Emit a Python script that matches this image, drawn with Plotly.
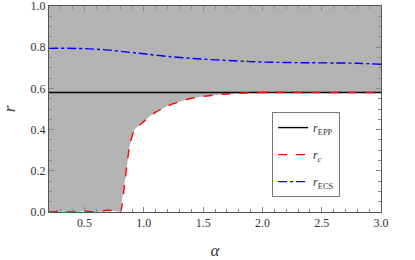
import plotly.graph_objects as go

alpha_c = [0.2, 0.25, 0.3, 0.35, 0.4, 0.45, 0.5, 0.55, 0.6, 0.65, 0.7, 0.75, 0.8,
           0.84, 0.88, 0.92, 0.97, 1.0, 1.05, 1.1, 1.2, 1.3, 1.4, 1.5, 1.6, 1.7,
           1.8, 1.9, 2.0, 2.2, 2.5, 2.8, 3.0]
r_c = [0.0, 0.002, 0.004, 0.0, 0.0, 0.0, 0.005, 0.002, 0.0, 0.004, 0.01, 0.005, 0.0,
       0.15, 0.32, 0.40, 0.425, 0.44, 0.465, 0.485, 0.515, 0.535, 0.552, 0.561, 0.568, 0.573,
       0.576, 0.579, 0.58, 0.58, 0.58, 0.58, 0.58]

alpha_ecs = [0.2, 0.5, 0.7, 0.9, 1.0, 1.2, 1.5, 1.8, 2.0, 2.3, 2.5, 2.8, 3.0]
r_ecs = [0.795, 0.793, 0.786, 0.774, 0.768, 0.755, 0.742, 0.733, 0.728, 0.725, 0.724, 0.722, 0.717]

alpha_epp = [0.2, 3.0]
r_epp = [0.58, 0.58]

SERIF = "Liberation Serif, serif"

fig = go.Figure()
# shaded region: from r_c up to 1
fig.add_trace(go.Scatter(x=alpha_c, y=[1.0] * len(alpha_c), mode="lines",
                         line=dict(width=0), showlegend=False, hoverinfo="skip"))
fig.add_trace(go.Scatter(x=alpha_c, y=r_c, mode="lines", line=dict(width=0),
                         fill="tonexty", fillcolor="#b3b3b3", showlegend=False, hoverinfo="skip"))

fig.add_trace(go.Scatter(x=alpha_epp, y=r_epp, mode="lines", name="<i>r</i><sub>EPP</sub>",
                         line=dict(color="black", width=1.4), legendgroup="a"))
fig.add_trace(go.Scatter(x=alpha_c, y=r_c, mode="lines", name="<i>r</i><sub><i>c</i></sub>",
                         line=dict(color="red", width=1.4, dash="dash", shape="spline", smoothing=0.6),
                         legendgroup="b"))
fig.add_trace(go.Scatter(x=alpha_ecs, y=r_ecs, mode="lines", name="<i>r</i><sub>ECS</sub>",
                         line=dict(color="blue", width=1.4, dash="dashdot", shape="spline"),
                         legendgroup="c"))

axis_common = dict(showline=True, linecolor="#555", linewidth=1, mirror="ticks",
                   ticks="inside", ticklen=5, tickcolor="#888", showgrid=False, zeroline=False,
                   ticklabeloverflow="allow", automargin=False,
                   tickfont=dict(family=SERIF, size=12, color="#333"))

fig.update_xaxes(range=[0.2, 3.0], dtick=0.5, tick0=0.5, tickformat=".1f",
                 minor=dict(dtick=0.1, ticks="inside", ticklen=3, tickcolor="#888"),
                 title=dict(text="<i>α</i>", font=dict(family=SERIF, size=17, color="#333")),
                 **axis_common)
fig.update_yaxes(range=[0.0, 1.0], dtick=0.2, tickformat=".1f",
                 minor=dict(dtick=0.05, ticks="inside", ticklen=3, tickcolor="#888"),
                 title=dict(text="<i>r</i>", font=dict(family=SERIF, size=17, color="#333")),
                 **axis_common)

fig.update_layout(
    width=415, height=260,
    margin=dict(l=49, r=34, t=6, b=48, autoexpand=False),
    plot_bgcolor="white", paper_bgcolor="white",
    font=dict(family=SERIF),
    showlegend=True,
    legend=dict(x=0.672, y=0.485, xanchor="left", yanchor="top",
                bgcolor="white", bordercolor="#777", borderwidth=1,
                font=dict(family=SERIF, size=12, color="#333"),
                tracegroupgap=8, itemwidth=30),
)

fig.write_html("out.html", config={"displayModeBar": False},
               post_script="document.body.style.margin='0';")
